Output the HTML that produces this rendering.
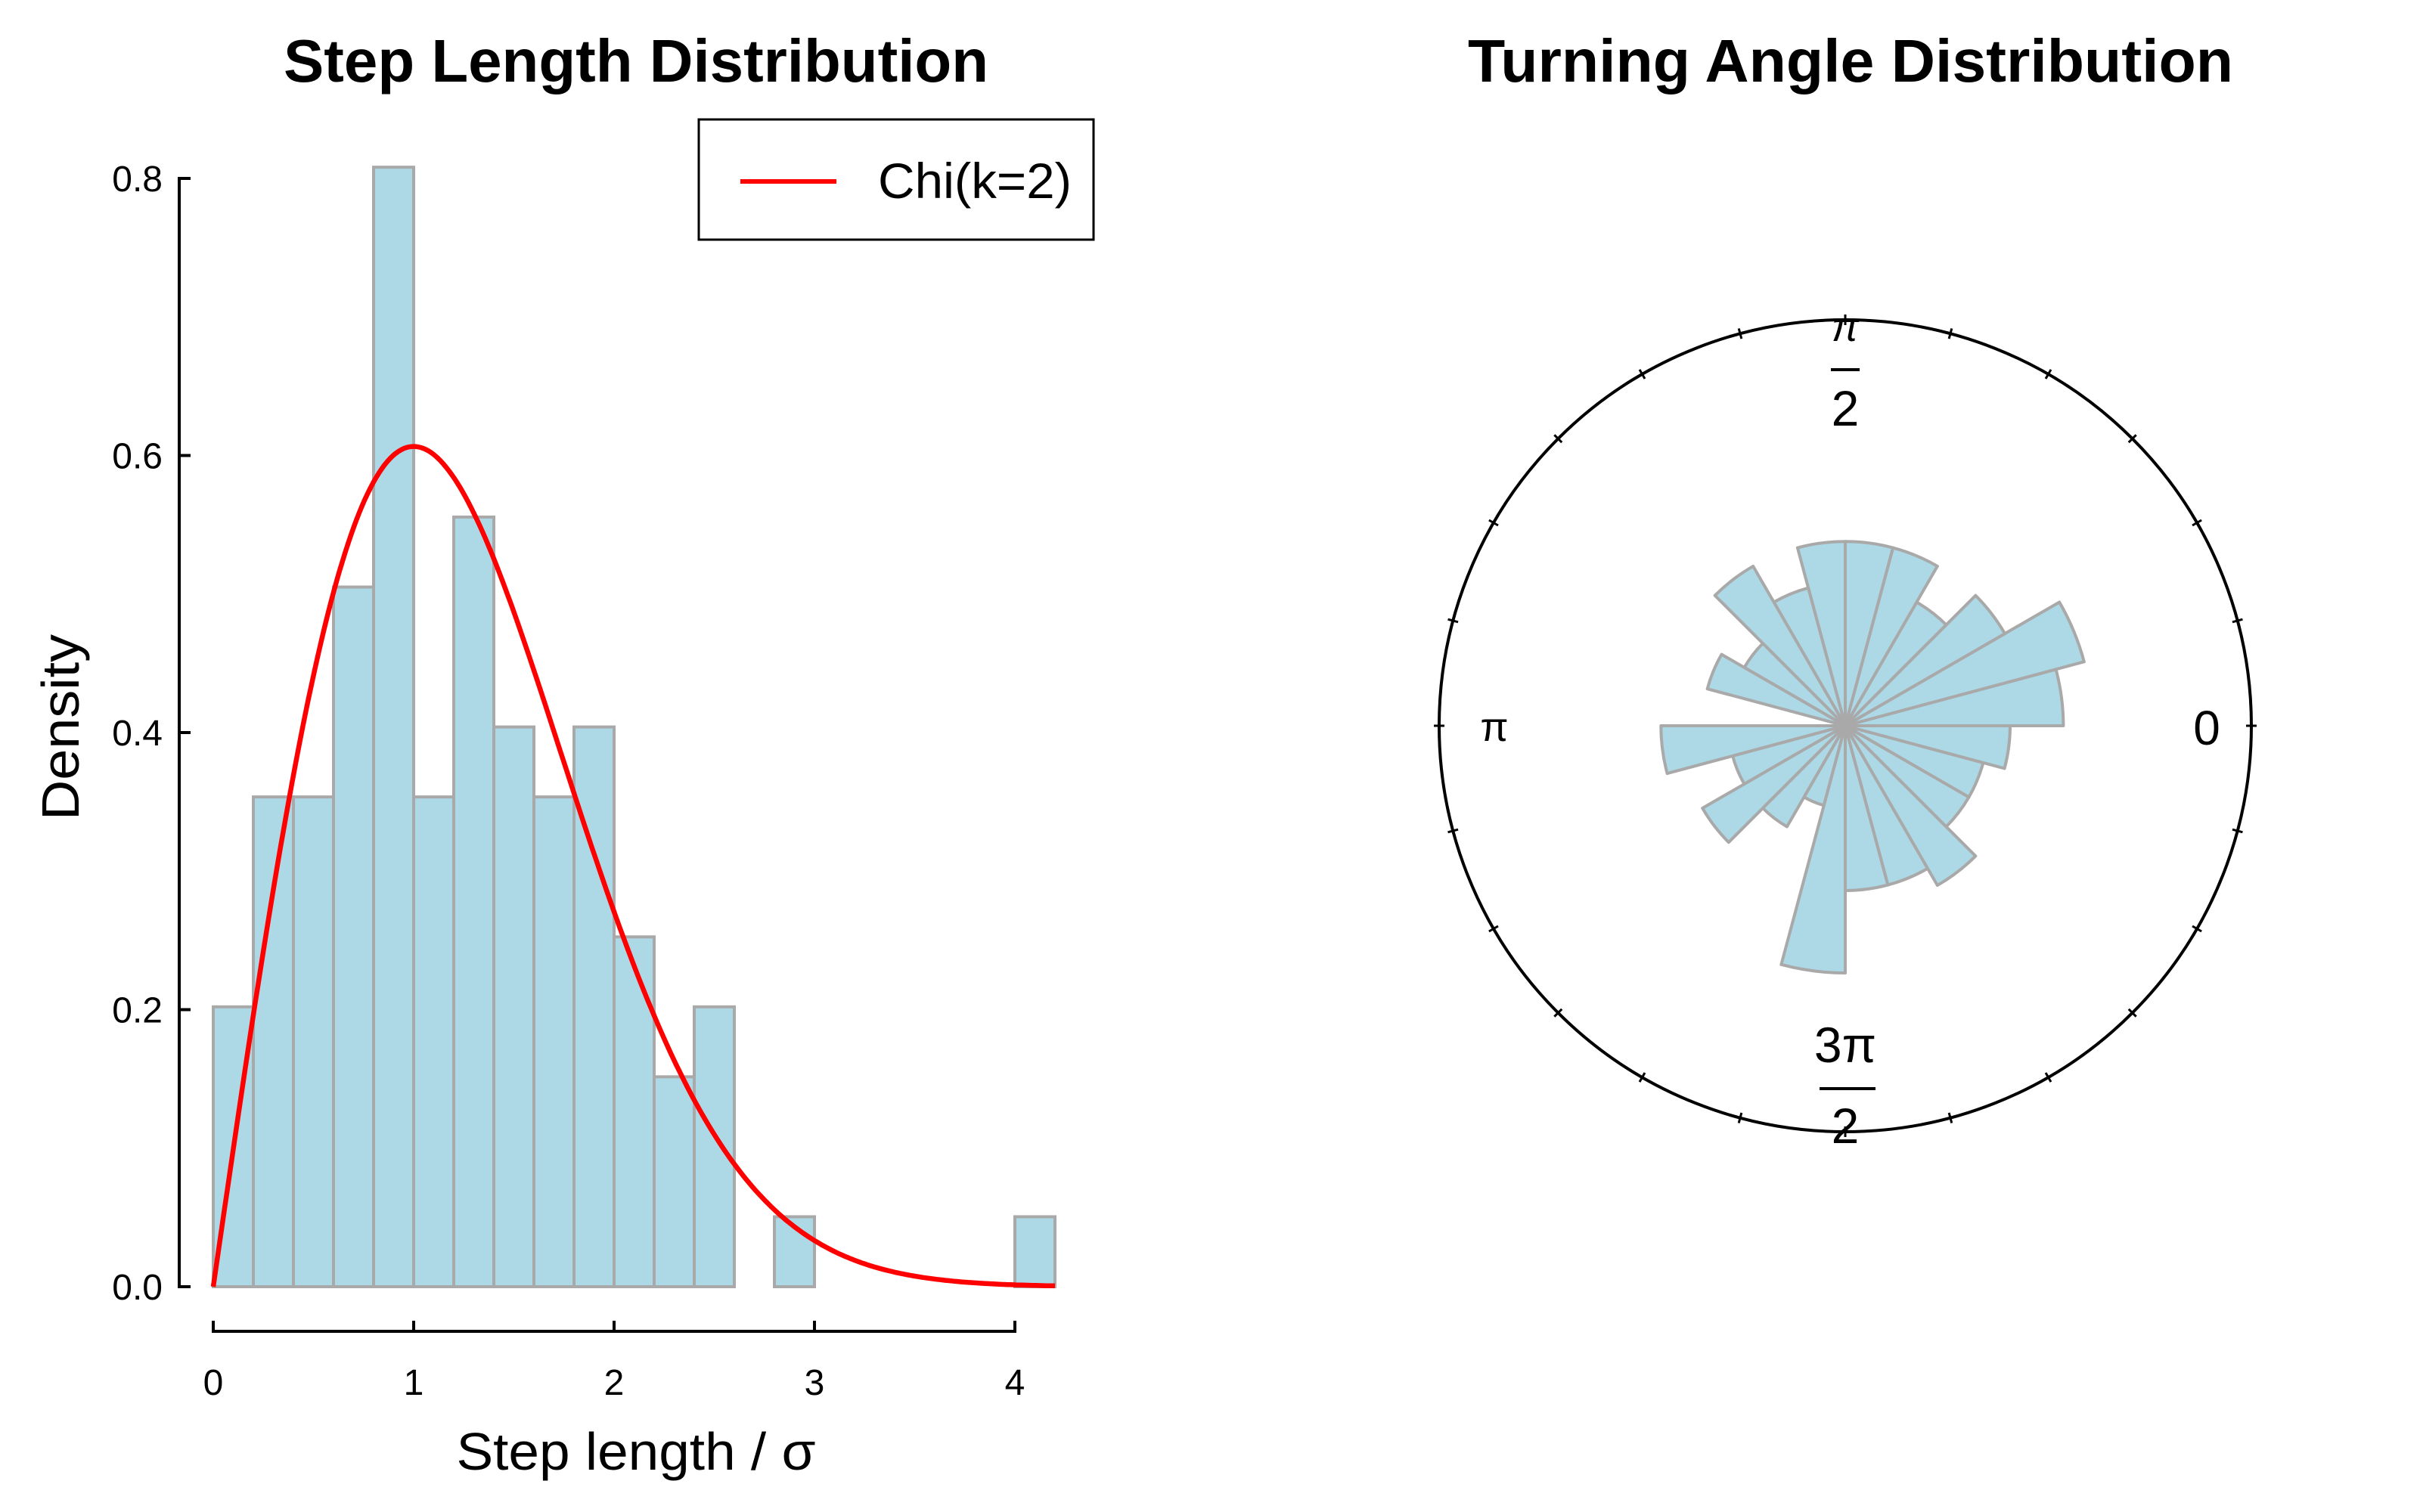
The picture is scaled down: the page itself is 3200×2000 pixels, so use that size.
<!DOCTYPE html>
<html><head><meta charset="utf-8"><style>
html,body{margin:0;padding:0;background:#fff;width:3200px;height:2000px;overflow:hidden}
svg{display:block}
text{font-family:"Liberation Sans",sans-serif}
</style></head><body>
<svg id="s" xmlns="http://www.w3.org/2000/svg" width="3200" height="2000" viewBox="0 0 3200 2000">
<rect width="3200" height="2000" fill="#fff"/>
<g id="hist"></g>
<g id="rose"></g>
<text x="841" y="108" font-size="80" font-weight="bold" text-anchor="middle" textLength="932" lengthAdjust="spacingAndGlyphs">Step Length Distribution</text>
<text x="2447" y="108" font-size="80" font-weight="bold" text-anchor="middle" textLength="1012" lengthAdjust="spacingAndGlyphs">Turning Angle Distribution</text>
<line x1="237" y1="234" x2="237" y2="1704" stroke="#000" stroke-width="4"/>
<line x1="280" y1="1761" x2="1344" y2="1761" stroke="#000" stroke-width="4"/>
<g id="ticks" stroke="#000" stroke-width="4"></g>
<g id="ticklabels" font-size="48"></g>
<text transform="translate(104,962) rotate(-90)" font-size="70" text-anchor="middle" textLength="246" lengthAdjust="spacingAndGlyphs">Density</text>
<text x="841" y="1944" font-size="70" text-anchor="middle" textLength="475" lengthAdjust="spacingAndGlyphs">Step length / σ</text>
<rect x="924" y="158" width="522" height="159" fill="#fff" stroke="#000" stroke-width="3"/>
<line x1="979" y1="240" x2="1106" y2="240" stroke="#ff0000" stroke-width="6"/>
<text x="1161" y="262" font-size="66" textLength="256" lengthAdjust="spacingAndGlyphs">Chi(k=2)</text>
<text x="2918" y="985" font-size="64" text-anchor="middle">0</text>
<text x="1976" y="980" font-size="54" text-anchor="middle" font-family="Liberation Serif">π</text>
<text x="2440" y="451" font-size="54" text-anchor="middle" font-family="Liberation Serif" font-style="italic">π</text>
<line x1="2421" y1="489" x2="2459" y2="489" stroke="#000" stroke-width="4"/>
<text x="2440" y="563" font-size="66" text-anchor="middle">2</text>
<text x="2440" y="1405" font-size="66" text-anchor="middle">3π</text>
<line x1="2406" y1="1440" x2="2480" y2="1440" stroke="#000" stroke-width="4"/>
<text x="2440" y="1512" font-size="66" text-anchor="middle">2</text>
</svg>
<script>
var NS="http://www.w3.org/2000/svg";
function el(p,t,a){var e=document.createElementNS(NS,t);for(var k in a)e.setAttribute(k,a[k]);p.appendChild(e);return e;}
var X0=282,UX=265,Y0=1702,UY=1832.5;
var hist=document.getElementById('hist');
var counts=[4,7,7,10,16,7,11,8,7,8,5,3,4,0,1,0,0,0,0,0,1];
for(var i=0;i<counts.length;i++){
  var d=counts[i]/(99*0.2), h=d*UY, x=X0+i*0.2*UX;
  el(hist,'rect',{x:x,y:Y0-h,width:0.2*UX,height:h,fill:'#add8e6',stroke:'#a9a9a9','stroke-width':4});
}
var pts=[];
for(var j=0;j<=300;j++){var t=4.2*j/300;pts.push((X0+t*UX).toFixed(1)+','+(Y0-t*Math.exp(-t*t/2)*UY).toFixed(1));}
el(hist,'polyline',{points:pts.join(' '),fill:'none',stroke:'#ff0000','stroke-width':6.5,'stroke-linejoin':'round'});
var tk=document.getElementById('ticks'),tl=document.getElementById('ticklabels');
for(var k=0;k<=4;k++){var y=Y0-k*0.2*UY;
  el(tk,'line',{x1:237,y1:y,x2:252,y2:y});
  var tx=el(tl,'text',{x:215,y:y+17,'text-anchor':'end'});tx.textContent=(k*0.2).toFixed(1);}
for(var k=0;k<=4;k++){var x=X0+k*UX;
  el(tk,'line',{x1:x,y1:1761,x2:x,y2:1747});
  var tx=el(tl,'text',{x:x,y:1845,'text-anchor':'middle'});tx.textContent=k;}
var rose=document.getElementById('rose');var CX=2440,CY=960,R=537,U=109;
var rc=[7,9,5,3,5,5,5,3,5,2,3,0,5,2,4,2,1,9,4,4,5,3,3,4];
for(var i=0;i<24;i++){if(!rc[i])continue;var r=U*Math.sqrt(rc[i]);
  var a1=i*15*Math.PI/180,a2=(i+1)*15*Math.PI/180;
  var x1=CX+r*Math.cos(a1),y1=CY-r*Math.sin(a1),x2=CX+r*Math.cos(a2),y2=CY-r*Math.sin(a2);
  el(rose,'path',{d:'M'+CX+','+CY+' L'+x1+','+y1+' A'+r+','+r+' 0 0 0 '+x2+','+y2+' Z',fill:'#add8e6',stroke:'#a9a9a9','stroke-width':4,'stroke-linejoin':'round'});}
el(rose,'circle',{cx:CX,cy:CY,r:R,fill:'none',stroke:'#000','stroke-width':4});
for(var i=0;i<24;i++){var a=i*15*Math.PI/180,c=Math.cos(a),s=Math.sin(a);
  el(rose,'line',{x1:CX+(R-7)*c,y1:CY-(R-7)*s,x2:CX+(R+7)*c,y2:CY-(R+7)*s,stroke:'#000','stroke-width':3});}
</script>
</body></html>
